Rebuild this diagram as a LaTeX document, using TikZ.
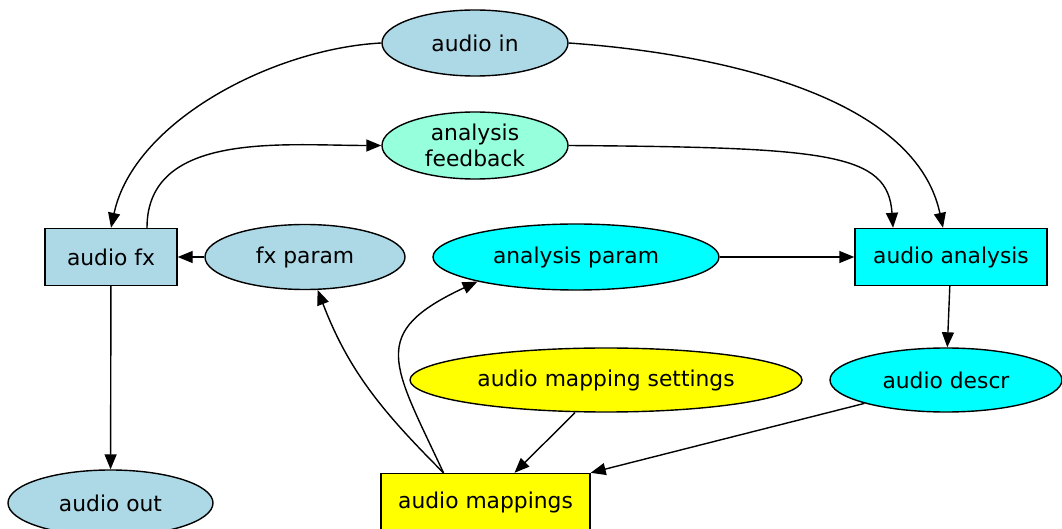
\documentclass[tikz,border=0pt]{standalone}
\usepackage{fontspec}
\setmainfont{DejaVu Sans}
\usetikzlibrary{arrows.meta}
\usetikzlibrary{shapes.geometric}
\definecolor{lightblue}{RGB}{173,216,230}
\definecolor{aquamarine}{RGB}{150,255,220}
\definecolor{cyanfill}{RGB}{0,255,255}
\definecolor{yellowfill}{RGB}{255,255,0}

\begin{document}
\begin{tikzpicture}[x=0.5pt,y=-0.5pt]
		\tikzset{edge/.style = {-{Triangle[length=7.5pt,width=6pt]}, line width=0.7pt}}
		\tikzset{oval/.style = {ellipse, draw, line width=0.7pt, inner sep=0pt, align=center, font=\fontsize{10.9}{13}\selectfont}}
		\tikzset{box/.style = {rectangle, draw, line width=0.7pt, inner sep=0pt, font=\fontsize{10.9}{13}\selectfont}}
		\useasboundingbox (0,0) rectangle (1062,529);
		\node[oval, fill=lightblue, minimum width=93pt, minimum height=33pt] (A) at (475,43) {audio in};
		\node[oval, fill=aquamarine, minimum width=93pt, minimum height=33.5pt] (B) at (475,145.5) {analysis\\feedback};
		\node[box, fill=lightblue, minimum width=66pt, minimum height=28.5pt] (C) at (111,257) {audio fx};
		\node[oval, fill=lightblue, minimum width=100pt, minimum height=32.5pt] (D) at (305,257) {fx param};
		\node[oval, fill=cyanfill, minimum width=143pt, minimum height=33pt] (E) at (576,257) {analysis param};
		\node[box, fill=cyanfill, minimum width=96pt, minimum height=28.5pt] (F) at (951,257) {audio analysis};
		\node[oval, fill=cyanfill, minimum width=116pt, minimum height=32pt] (G) at (946,380) {audio descr};
		\node[oval, fill=yellowfill, minimum width=196pt, minimum height=32pt] (H) at (606,380) {audio mapping settings};
		\node[oval, fill=lightblue, minimum width=102.5pt, minimum height=33pt] (I) at (110.5,503) {audio out};
		\node[box, fill=yellowfill, minimum width=104.5pt, minimum height=28.5pt] (J) at (485.5,502) {audio mappings};
		% upper curves
		\draw[edge] (A.west) to[out=183,in=78,looseness=0.85] (C.north);
		\draw[edge] (A.east) to[out=-4,in=102,looseness=0.85] ([xshift=-4pt]F.north);
		\draw[edge] ([xshift=18pt]C.north) to[out=90,in=180] (B.west);
		\draw[edge] (B.east) .. controls +(260,2) and +(-5,-75) .. ([xshift=-29pt]F.north);
		% straight ones
		\draw[edge] (D) -- (C);
		\draw[edge] (E) -- (F);
		\draw[edge] (F) -- (G);
		\draw[edge] (C) -- (I);
		% into and out of the mappings
		\draw[edge] ([xshift=-21pt]J.north) to[out=135,in=-69] (D.-69);
		\draw[edge] ([xshift=-21pt]J.north) to[out=115,in=205,looseness=1.6] (E.194);
		\draw[edge] ([xshift=-15.5pt]H.south) -- ([xshift=14.5pt]J.north);
		\draw[edge] (G.196) -- (J.north east);
	\end{tikzpicture}
\end{document}
